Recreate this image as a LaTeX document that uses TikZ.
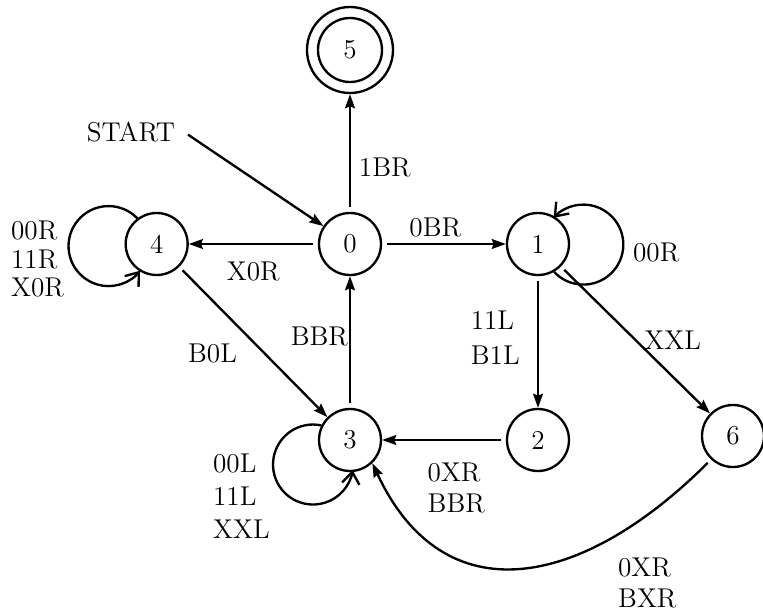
\documentclass[tikz,border=0pt]{standalone}
\usepackage{tikz}
\usetikzlibrary{arrows.meta}
\usetikzlibrary{calc}

\newcommand{\selfloop}[4] % node, anchor angle, start angle, end angle
{
	% loop drawn as an arc leaving and entering the state
	\draw[selftrans] (#1.#2) arc[start angle=#3, end angle=#4, radius=0.6];
}

\tikzset{
	statenode/.style={circle, draw, minimum size=0.93cm, inner sep=0pt},
	finalnode/.style={statenode, minimum size=1.29cm,
		path picture={\draw (path picture bounding box.center) circle (0.48);}},
	trans/.style={-{Stealth[length=6pt, width=4.2pt, inset=0.8pt]}, shorten <=2pt},
	selftrans/.style={-{Straight Barb[length=5pt, width=7.5pt]}},
	lbl/.style={anchor=west, inner sep=0pt, align=left}
}

\begin{document}
\begin{tikzpicture}[line width=1pt, every node/.style={font=\fontsize{11.6}{14}\selectfont}]
	% 763 x 615 px, 1px = 0.015cm, origin at state 0
	\useasboundingbox (-5.25,-5.565) rectangle (6.195,3.66);
	
	% states
	\node[statenode] (q0) at (0,0) {0};
	\node[statenode] (q1) at (2.82,0) {1};
	\node[statenode] (q4) at (-2.9,0) {4};
	\node[statenode] (q3) at (0,-2.94) {3};
	\node[statenode] (q2) at (2.82,-2.94) {2};
	\node[statenode] (q6) at (5.745,-2.88) {6};
	\node[finalnode] (q5) at (0,2.91) {5};
	\node (start) at (-3.285,1.68) {START};
	
	% transitions
	\draw[trans] (start.east) -- (q0);
	\draw[trans] (q0) -- node[right, pos=0.38] {1BR} (q5);
	\draw[trans] (q0) -- node[below=4pt] {X0R} (q4);
	\draw[trans] (q0) -- node[above=-1pt, pos=0.43] {0BR} (q1);
	\draw[trans] (q4) -- node[below left, pos=0.45] {B0L} (q3);
	\draw[trans] (q3) -- node[left=-3pt, pos=0.54] {BBR} (q0);
	\draw[trans] (q1) -- node[left=4pt, pos=0.47, align=left] {11L\\[1pt]B1L} (q2);
	\draw[trans] (q1) -- node[right] {XXL} (q6);
	\draw[trans] (q2) -- node[below=6pt, pos=0.4, align=left] {0XR\\[-1pt]BBR} (q3);
	\draw[trans] (q6.-133) .. controls +(-135:2.75) and +(-65:2.53) .. (q3.-46);
	
	% loops
	\selfloop{q1}{-60}{-137}{138}
	\selfloop{q4}{127}{44}{322}
	\selfloop{q3}{153}{78}{352}
	
	% loop and curve labels
	\node[lbl] (l1) at (4.23,-0.1275) {00R};
	\node[lbl] (l4) at (-5.1,-0.225) {00R\\[-2pt]11R\\[-2pt]X0R};
	\node[lbl] (l3) at (-2.07,-3.7875) {00L\\11L\\XXL};
	\node[lbl] (l6) at (4.005,-5.085) {0XR\\[-1pt]BXR};
	
\end{tikzpicture}
\end{document}
